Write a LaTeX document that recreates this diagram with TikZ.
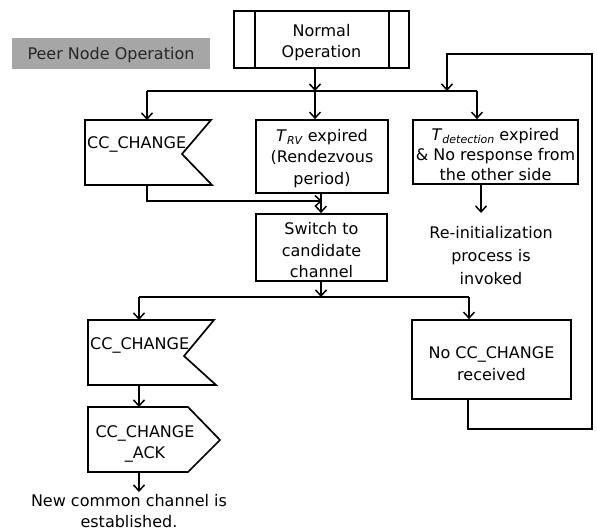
\documentclass[tikz,border=0pt]{standalone}
\usepackage{fontspec}
\setmainfont{DejaVu Sans}
\usetikzlibrary{arrows.meta}
\newcommand\mainfs{\fontsize{16}{21.5}\selectfont}
\newcommand\subfs{\fontsize{11}{11}\selectfont}
\definecolor{titlegray}{HTML}{A6A6A6}
\tikzset{
  boxline/.style={draw, line width=1.7pt, line join=miter},
  rectbox/.style={boxline, inner sep=0pt},
  txt/.style={align=center, inner sep=0pt, font=\mainfs},
  ln/.style={line width=1.5pt},
  arr/.style={line width=1.5pt, -{Straight Barb[length=6pt,width=11pt,line width=1.5pt]}},
}
\begin{document}
\begin{tikzpicture}[x=1pt,y=-1pt]
\useasboundingbox (0,0) rectangle (597,532);

% title
\node[fill=titlegray, minimum width=198pt, minimum height=31pt, inner sep=0pt] (title) at (111,53.5) {};
\node[txt, text=black!85] (titlet) at ([yshift=-1.5pt]title.center) {Peer Node Operation};

% Normal Operation (predefined process)
\node[rectbox, minimum width=175pt, minimum height=57pt] (norm) at (321.5,39.5) {};
\node[txt] (normt) at ([yshift=-3pt]norm.center) {Normal\\Operation};
\draw[line width=1.7pt] ([xshift=22pt]norm.north west) -- ([xshift=22pt]norm.south west);
\draw[line width=1.7pt] ([xshift=-21pt]norm.north east) -- ([xshift=-21pt]norm.south east);

% junction coordinates
\coordinate (j0) at (315,91);
\coordinate (jl) at (147,91);
\coordinate (jr) at (477,91);
\coordinate (loopin) at (447,91);

% TRV box
\node[rectbox, minimum width=132pt, minimum height=73pt] (trv) at (322,156.5) {};
\node[txt] (trvt) at ([yshift=-2pt]trv.center)
  {\textit{T}\raisebox{-3pt}{\subfs\textit{RV}} expired\\(Rendezvous\\period)};

% Tdetection box
\node[rectbox, minimum width=165pt, minimum height=64pt] (tdet) at (495.5,152) {};
\node[txt, font=\fontsize{16}{20}\selectfont] (tdett) at ([yshift=-3pt]tdet.center)
  {\textit{T}\raisebox{-3pt}{\subfs\textit{detection}} expired\\\& No response from\\the other side};

% CC_CHANGE receive (upper)
\draw[boxline] (85,120) -- (211,120) -- (182,154) -- (212,185) -- (85,185) -- cycle;
\node[txt, anchor=west] (cc1) at (87,144) {CC\_CHANGE};
\coordinate (cc1top) at (147,120);
\coordinate (cc1bot) at (147,185);

% Switch box
\node[rectbox, minimum width=131pt, minimum height=67pt] (sw) at (321.5,247.5) {};
\node[txt] (swt) at ([yshift=-3pt]sw.center) {Switch to\\candidate\\channel};
\coordinate (swin) at (322,201);

% Re-initialization text
\node[txt, font=\fontsize{16}{23}\selectfont] (reinit) at (491,256) {Re-initialization\\process is\\invoked};

% lower junction
\coordinate (k0) at (321,297);
\coordinate (kl) at (139,297);
\coordinate (kr) at (469,297);

% CC_CHANGE receive (lower)
\draw[boxline] (88,320) -- (214,320) -- (184,356) -- (216,385) -- (88,385) -- cycle;
\node[txt, anchor=west] (cc2) at (90,345) {CC\_CHANGE};
\coordinate (cc2top) at (139,320);
\coordinate (cc2bot) at (139,385);

% CC_CHANGE_ACK send
\draw[boxline] (88,407) -- (188,407) -- (220,440) -- (188,472) -- (88,472) -- cycle;
\node[txt] (ack) at (145,444) {CC\_CHANGE\\\_ACK};
\coordinate (acktop) at (139,407);
\coordinate (ackbot) at (139,472);

% final text
\node[txt] (newcc) at (129,511) {New common channel is\\established.};

% No CC_CHANGE received
\node[rectbox, minimum width=159pt, minimum height=79pt] (nocc) at (491.5,359.5) {};
\node[txt] (nocct) at ([yshift=-4pt]nocc.center) {No CC\_CHANGE\\received};
\coordinate (noccbot) at (468,399);

% connectors
\draw[arr] (norm.south -| j0) -- (j0);
\draw[ln] (jl) -- (jr);
\draw[arr] (jl) -- (cc1top);
\draw[arr] (j0) -- (trv.north -| j0);
\draw[arr] (jr) -- (tdet.north -| jr);
\draw[arr] (cc1bot) |- (swin);
\draw[arr] (trv.south -| k0) -- (sw.north -| k0);
\draw[arr] (tdet.south -| 481,0) -- (481,213) coordinate (reinitin);
\draw[arr] (sw.south -| k0) -- (k0);
\draw[ln] (kl) -- (kr);
\draw[arr] (kl) -- (cc2top);
\draw[arr] (kr) -- (nocc.north -| kr);
\draw[arr] (cc2bot) -- (acktop);
\draw[arr] (ackbot) -- (139,492) coordinate (newin);
\draw[arr] (noccbot) |- (592,429) |- (447,54) -- (loopin);
\end{tikzpicture}
\end{document}
